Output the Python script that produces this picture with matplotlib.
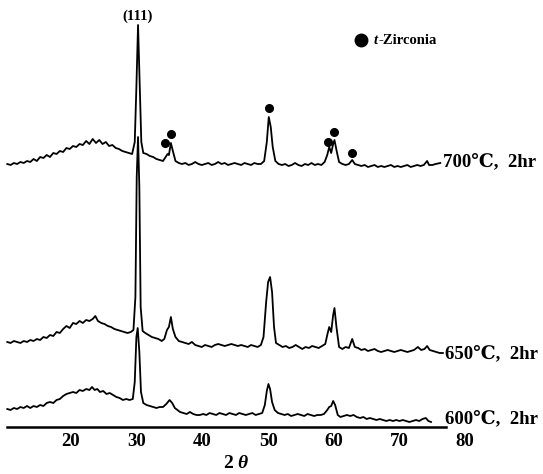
'''
XRD patterns of zirconia calcined at 600, 650 and 700 C for 2 hr.
'''

import numpy as np
from matplotlib import pyplot as plt


#(0) Data (2theta [deg], intensity [a.u.], stacked):
xrd_700 = [(10.3,263),(10.8,262),(11.3,264),(11.8,263),(12.3,265),(12.8,264),(13.3,266),(13.8,265),
           (14.3,268),(14.8,266),(15.3,270),(15.8,269),(16.3,272),(16.8,270),(17.3,274),(17.8,273),
           (18.3,276),(18.8,275),(19.3,279),(19.8,278),(20.3,281),(20.8,280),(21.3,283),(21.8,282),
           (22.3,286),(22.8,283),(23.3,288),(23.8,284),(24.3,287),(24.8,283),(25.3,285),(25.8,281),
           (26.3,282),(26.8,279),(27.3,278),(27.8,276),(28.3,275),(28.8,274),(29.3,273),(29.7,285),
           (29.95,340),(30.2,402),(30.45,345),(30.7,285),(31.0,274),(31.5,273),(32.0,271),(32.5,270),
           (33.0,268),(33.5,267),(34.0,266),(34.4,270),(34.7,273),(34.9,272),(35.2,284),(35.5,276),
           (35.9,266),(36.4,264),(36.9,263),(37.4,264),(37.9,262),(38.4,263),(38.9,265),(39.4,263),
           (39.9,262),(40.4,263),(40.9,264),(41.4,262),(41.9,263),(42.4,265),(42.9,263),(43.4,264),
           (43.9,262),(44.4,263),(44.9,264),(45.4,263),(45.9,262),(46.4,264),(46.9,263),(47.4,262),
           (47.9,264),(48.4,263),(48.9,263),(49.4,266),(49.8,285),(50.1,310),(50.4,300),(50.7,280),
           (51.1,266),(51.6,263),(52.1,262),(52.6,263),(53.1,261),(53.6,262),(54.1,264),(54.6,262),
           (55.1,261),(55.6,263),(56.1,262),(56.6,264),(57.1,262),(57.6,263),(58.1,262),(58.6,265),
           (59.0,272),(59.3,280),(59.6,274),(59.9,283),(60.1,287),(60.4,277),(60.8,265),(61.3,263),
           (61.8,262),(62.3,263),(62.8,267),(63.2,263),(63.7,262),(64.2,261),(64.7,262),(65.2,260),
           (65.7,261),(66.2,262),(66.7,260),(67.2,261),(67.7,260),(68.2,261),(68.7,262),(69.2,260),
           (69.7,261),(70.2,260),(70.7,261),(71.2,262),(71.7,260),(72.2,261),(72.7,262),(73.2,261),
           (73.7,262),(74.2,266),(74.5,262),(75.0,262),(75.5,263),(76.2,264)]

xrd_650 = [(10.3,85),(10.8,84),(11.3,86),(11.8,85),(12.3,84),(12.8,86),(13.3,85),(13.8,87),
           (14.3,86),(14.8,88),(15.3,87),(15.8,90),(16.3,89),(16.8,92),(17.3,91),(17.8,95),
           (18.3,94),(18.8,98),(19.3,101),(19.8,99),(20.3,104),(20.8,103),(21.3,106),(21.8,104),
           (22.3,107),(22.8,106),(23.3,108),(23.7,111),(24.1,106),(24.6,104),(25.1,103),(25.6,101),
           (26.1,100),(26.6,98),(27.1,97),(27.6,96),(28.1,95),(28.6,94),(29.1,95),(29.5,97),
           (29.8,130),(30.0,250),(30.2,290),(30.4,240),(30.6,120),(30.9,96),(31.3,94),(31.8,92),
           (32.3,90),(32.8,89),(33.3,88),(33.8,86),(34.2,88),(34.6,97),(34.9,100),(35.2,110),
           (35.5,98),(35.9,90),(36.4,86),(36.9,85),(37.4,84),(37.9,83),(38.4,85),(38.9,82),
           (39.4,81),(39.9,80),(40.4,82),(40.9,81),(41.4,80),(41.9,82),(42.4,83),(42.9,82),
           (43.4,81),(43.9,82),(44.4,83),(44.9,82),(45.4,81),(45.9,82),(46.4,81),(46.9,80),
           (47.4,82),(47.9,81),(48.4,80),(48.9,82),(49.3,90),(49.7,125),(50.0,145),(50.3,150),
           (50.6,135),(50.9,100),(51.2,84),(51.7,82),(52.2,80),(52.7,81),(53.2,79),(53.7,80),
           (54.2,82),(54.7,80),(55.2,78),(55.7,80),(56.2,79),(56.7,81),(57.2,80),(57.7,79),
           (58.2,81),(58.7,83),(59.0,92),(59.3,100),(59.6,95),(59.9,112),(60.1,119),(60.4,100),
           (60.8,80),(61.3,78),(61.8,80),(62.3,79),(62.8,88),(63.2,80),(63.7,79),(64.2,77),
           (64.7,78),(65.2,76),(65.7,77),(66.2,78),(66.7,76),(67.2,75),(67.7,76),(68.2,77),
           (68.7,76),(69.2,75),(69.7,76),(70.2,77),(70.7,76),(71.2,75),(71.7,76),(72.2,77),
           (72.8,80),(73.3,77),(73.8,78),(74.2,81),(74.6,77),(75.1,76),(75.6,75),(76.1,74),(76.6,74)]

xrd_600 = [(10.3,18),(10.8,17),(11.3,19),(11.8,18),(12.3,20),(12.8,19),(13.3,21),(13.8,19),
           (14.3,21),(14.8,20),(15.3,22),(15.8,21),(16.3,24),(16.8,25),(17.3,24),(17.8,27),
           (18.3,28),(18.8,31),(19.3,33),(19.8,34),(20.3,35),(20.8,34),(21.3,37),(21.8,36),
           (22.3,38),(22.8,37),(23.2,40),(23.6,37),(24.0,38),(24.4,35),(24.9,36),(25.4,33),
           (25.9,34),(26.4,32),(26.9,30),(27.4,29),(27.9,27),(28.4,28),(28.9,27),(29.4,28),
           (29.7,45),(29.95,90),(30.15,99),(30.4,75),(30.65,35),(31.0,24),(31.5,22),(32.0,21),
           (32.5,20),(33.0,19),(33.5,20),(34.0,20),(34.5,23),(35.0,27),(35.4,24),(35.8,19),
           (36.2,17),(36.6,15),(37.1,14),(37.6,13),(38.1,15),(38.6,13),(39.1,12),(39.6,12),
           (40.1,13),(40.6,12),(41.1,14),(41.6,13),(42.1,12),(42.6,14),(43.1,13),(43.6,12),
           (44.1,14),(44.6,13),(45.1,12),(45.6,14),(46.1,13),(46.6,12),(47.1,13),(47.6,14),
           (48.1,12),(48.6,13),(49.1,14),(49.5,22),(49.8,36),(50.05,43),(50.3,38),(50.6,25),
           (51.0,17),(51.5,14),(52.0,13),(52.5,12),(53.0,13),(53.5,11),(54.0,12),(54.5,13),
           (55.0,12),(55.5,11),(56.0,13),(56.5,12),(57.0,11),(57.5,12),(58.0,12),(58.5,13),
           (59.0,17),(59.3,20),(59.6,21),(59.9,26),(60.2,22),(60.6,12),(61.0,10),(61.5,11),
           (62.0,12),(62.5,11),(63.0,12),(63.5,10),(64.0,9),(64.5,10),(65.0,8),(65.5,9),
           (66.0,8),(66.5,7),(67.0,8),(67.5,7),(68.0,6),(68.5,7),(69.0,6),(69.5,7),
           (70.0,6),(70.5,7),(71.0,6),(71.5,5),(72.0,6),(72.5,7),(73.0,6),(73.5,8),
           (74.0,9),(74.4,6),(74.8,5)]

traces       = {'700℃,  2hr': xrd_700, '650℃,  2hr': xrd_650, '600℃,  2hr': xrd_600}
label_pos    = {'700℃,  2hr': (76.6, 265), '650℃,  2hr': (76.9, 73), '600℃,  2hr': (76.9, 8)}
### t-zirconia peak markers (700 C pattern):
dot_tt       = [34.3, 35.2, 50.1, 59.1, 60.0, 62.8]
dot_ii       = [284, 293, 319, 285, 295, 274]
xticks       = [20, 30, 40, 50, 60, 70, 80]



#(1) Plot:
plt.close('all')
serif = ['Liberation Serif', 'DejaVu Serif', 'DejaVu Sans']
fig   = plt.figure(figsize=(5.43, 4.74), dpi=100)
ax    = fig.add_axes([0, 47/474, 1, 427/474])
for name, pts in traces.items():
	tt, ii = np.array(pts).T
	ax.plot(tt, ii, color='k', lw=1.3)
	ax.text(*label_pos[name], name, ha='left', va='center', size=13.5, weight='bold', family=serif)
ax.plot(dot_tt, dot_ii, 'o', color='k', ms=5.5)

ax.text(30.2, 411, '(111)', ha='center', va='center', size=10.5, weight='bold', family=serif)
ax.plot([64.1], [387], 'o', color='k', ms=9)
ax.text(66.1, 387, 't', ha='left', va='center', size=10.5, weight='bold', style='italic', family=serif)
ax.text(66.8, 387, '-Zirconia', ha='left', va='center', size=10.5, weight='bold', family=serif)

ax.set_xlim(9.19, 91.84)
ax.set_ylim(0, 427)
for s in ['top', 'left', 'right']:
	ax.spines[s].set_visible(False)
ax.spines['bottom'].set_bounds(10.3, 77.1)
ax.spines['bottom'].set_linewidth(1.8)
ax.set_yticks([])
ax.set_xticks(xticks)
ax.tick_params(axis='x', length=0, pad=4)
plt.setp(ax.get_xticklabels(), size=13.5, weight='bold', family=serif)
ax.text(43.9, -36, '2', ha='center', va='center', size=14, weight='bold', family=serif, clip_on=False)
ax.text(46.1, -36, 'θ', ha='center', va='center', size=14, weight='bold', style='italic',
        family=serif, clip_on=False)

plt.savefig('out.png', dpi=100)
